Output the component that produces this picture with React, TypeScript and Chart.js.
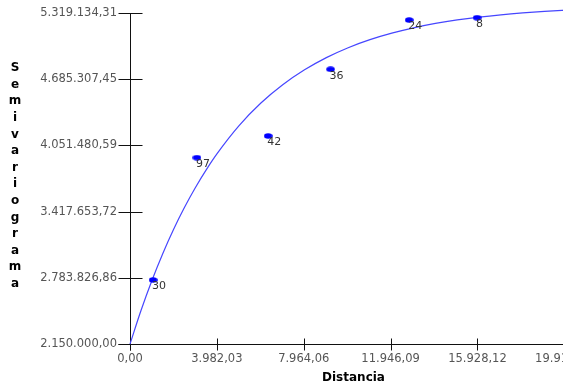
import { useEffect, useRef } from 'react';
import { Chart, registerables } from 'chart.js';
Chart.register(...registerables);

// Experimental semivariogram points (lag distance, semivariance, number of pairs)
const lagDistances = [1058, 3067, 6332, 9196, 12797, 15910];
const semivariances = [2762800, 3934000, 4141500, 4780000, 5252000, 5274000];
const pairCounts = ['30', '97', '42', '36', '24', '8'];

// Fitted model curve
const curveDistances = [0, 500, 1000, 1500, 2000, 2500, 3000, 3500, 4000, 5000, 6000, 7000, 8000, 9000, 10000, 11000, 12000, 13000, 14000, 15000, 16000, 17000, 18000, 19000, 20000, 21000, 22000];
const curveValues = [2150000, 2468000, 2755500, 3014500, 3248500, 3459000, 3649000, 3820000, 3975000, 4241000, 4457000, 4632000, 4775000, 4892000, 4987000, 5064000, 5126000, 5177000, 5219000, 5253000, 5280000, 5302000, 5320000, 5335000, 5347000, 5357000, 5365000];

const xTickValues = [0, 3982.03, 7964.06, 11946.09, 15928.12, 19910.15];
const yTickValues = [2150000, 2783826.86, 3417653.72, 4051480.59, 4685307.45, 5319134.31];
const xAxisTitle = 'Distancia';
const yAxisTitle = 'Semivariograma';

function fmt(v: number): string {
  const [i, d] = v.toFixed(2).split('.');
  return i.replace(/\B(?=(\d{3})+(?!\d))/g, '.') + ',' + d;
}

const axesPlugin = {
  id: 'customAxes',
  beforeDatasetsDraw(chart: any) {
    const { ctx, scales } = chart;
    const x = scales.x;
    const y = scales.y;
    const x0 = Math.round(x.getPixelForValue(xTickValues[0])) + 0.5;
    const yBot = Math.round(y.getPixelForValue(yTickValues[0])) + 0.5;
    const yTop = Math.round(y.getPixelForValue(yTickValues[yTickValues.length - 1])) + 0.5;
    ctx.save();
    ctx.strokeStyle = '#111';
    ctx.lineWidth = 1;
    ctx.beginPath();
    ctx.moveTo(x0, yTop);
    ctx.lineTo(x0, yBot + 6);
    ctx.moveTo(x0 - 12, yBot);
    ctx.lineTo(chart.width, yBot);
    for (const v of yTickValues) {
      const py = Math.round(y.getPixelForValue(v)) + 0.5;
      ctx.moveTo(x0 - 12, py);
      ctx.lineTo(x0 + 12, py);
    }
    for (const v of xTickValues) {
      const px = Math.round(x.getPixelForValue(v)) + 0.5;
      ctx.moveTo(px, yBot - 6);
      ctx.lineTo(px, yBot + 6);
    }
    ctx.stroke();
    ctx.restore();
  },
  afterDatasetsDraw(chart: any) {
    const { ctx } = chart;
    const meta = chart.getDatasetMeta(0);
    ctx.save();
    ctx.fillStyle = '#333';
    ctx.font = '11px "DejaVu Sans"';
    ctx.textAlign = 'left';
    ctx.textBaseline = 'top';
    meta.data.forEach((el: any, i: number) => {
      ctx.fillText(pairCounts[i], el.x - 1, el.y + 1);
    });
    ctx.restore();
  },
  afterDraw(chart: any) {
    const { ctx, chartArea } = chart;
    ctx.save();
    ctx.fillStyle = '#000';
    ctx.font = 'bold 12px "DejaVu Sans"';
    ctx.textAlign = 'center';
    ctx.textBaseline = 'middle';
    const letters = yAxisTitle.split('');
    letters.forEach((ch, i) => {
      ctx.fillText(ch, 15, 68 + i * 16.6);
    });
    ctx.fillText(xAxisTitle, chartArea.left + 223.5, 377.5);
    ctx.restore();
  },
};

export default function App() {
  const ref = useRef<HTMLCanvasElement | null>(null);
  useEffect(() => {
    document.body.style.margin = '0';
    const canvas = ref.current;
    if (!canvas) return;
    const dot = document.createElement('canvas');
    dot.width = 9;
    dot.height = 6;
    const dctx = dot.getContext('2d')!;
    dctx.fillStyle = '#0000ff';
    dctx.beginPath();
    dctx.ellipse(4.5, 3, 4.3, 2.8, 0, 0, Math.PI * 2);
    dctx.fill();

    const chart = new Chart(canvas, {
      type: 'scatter',
      data: {
        datasets: [
          {
            data: lagDistances.map((d, i) => ({ x: d, y: semivariances[i] })),
            pointStyle: dot as any,
            pointRadius: 4,
            showLine: false,
            backgroundColor: '#0000ff',
            borderColor: '#0000ff',
            clip: false as any,
            order: 0,
          },
          {
            data: curveDistances.map((d, i) => ({ x: d, y: curveValues[i] })),
            showLine: true,
            pointRadius: 0,
            borderColor: 'rgba(70,70,255,1)',
            borderWidth: 1.2,
            cubicInterpolationMode: 'monotone',
            clip: false as any,
            order: 1,
          },
        ],
      },
      options: {
        animation: false,
        responsive: false,
        layout: { padding: { top: 13, left: 0, right: 0, bottom: 0 } },
        plugins: { legend: { display: false }, tooltip: { enabled: false } },
        scales: {
          x: {
            type: 'linear',
            min: 0,
            max: 22231,
            afterBuildTicks: (s: any) => {
              s.ticks = xTickValues.map((v) => ({ value: v }));
            },
            afterFit: (s: any) => {
              s.height = 42;
            },
            grid: { display: false, drawTicks: false },
            border: { display: false },
            ticks: {
              padding: 8,
              autoSkip: false,
              maxRotation: 0,
              color: '#555',
              font: { family: 'DejaVu Sans', size: 11.5 },
              callback: (v: any) => fmt(Number(v)),
            },
          },
          y: {
            type: 'linear',
            min: yTickValues[0],
            max: yTickValues[yTickValues.length - 1],
            afterBuildTicks: (s: any) => {
              s.ticks = yTickValues.map((v) => ({ value: v }));
            },
            afterFit: (s: any) => {
              s.width = 130;
              s.paddingTop = 0;
              s.paddingBottom = 0;
            },
            grid: { display: false, drawTicks: false },
            border: { display: false },
            ticks: {
              padding: 13,
              autoSkip: false,
              color: '#555',
              font: { family: 'DejaVu Sans', size: 11.5 },
              callback: (v: any) => fmt(Number(v)),
            },
          },
        },
      },
      plugins: [axesPlugin],
    });
    return () => chart.destroy();
  }, []);
  return (
    <div style={{ width: 563, height: 386, overflow: 'hidden', background: '#fff' }}>
      <canvas ref={ref} width={620} height={386} style={{ display: 'block' }} />
    </div>
  );
}
